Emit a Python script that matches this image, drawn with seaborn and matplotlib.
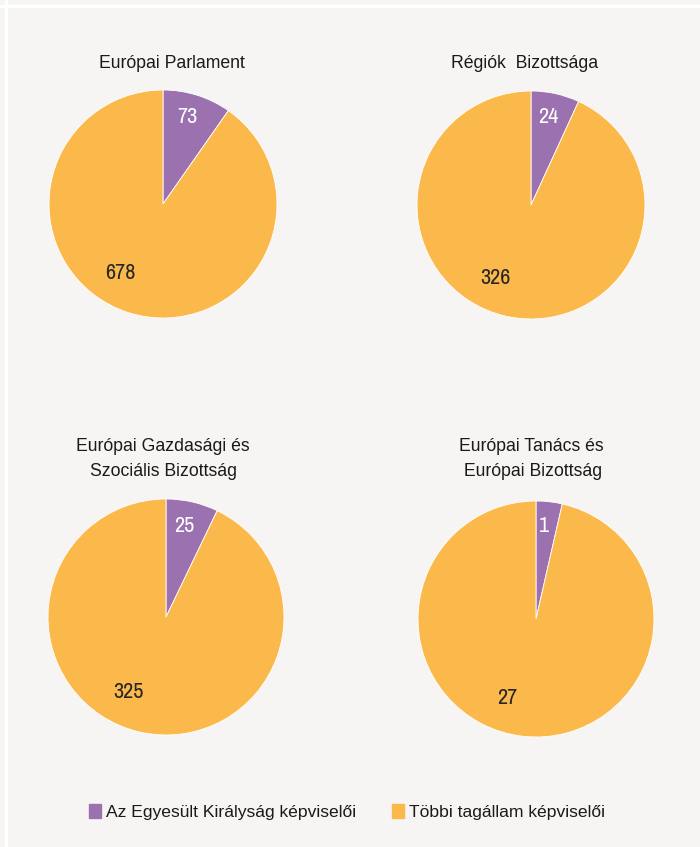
import matplotlib
matplotlib.use("Agg")
import matplotlib.pyplot as plt
import matplotlib.patches as mpatches
import seaborn as sns
import numpy as np

# ---- data ----
titles = ["Európai Parlament", "Régiók  Bizottsága",
          "Európai Gazdasági és\nSzociális Bizottság", "Európai Tanács és\n Európai Bizottság"]
uk_members = [73, 24, 25, 1]
other_members = [678, 326, 325, 27]
series_names = ["Az Egyesült Királyság képviselői", "Többi tagállam képviselői"]

sns.set_theme(style="white")
plt.rcParams['font.family'] = ['Liberation Sans', 'DejaVu Sans']
NARROW = ['Liberation Sans Narrow', 'Archivo Narrow', 'Liberation Sans', 'DejaVu Sans']

BG = "#f6f5f3"
colors = ["#9b71b0", "#fbb94c"]

W, H = 700, 847
fig = plt.figure(figsize=(7, 8.47), dpi=100, facecolor=BG)

# white frame lines (top and left)
fig.add_artist(plt.Line2D([0, 1], [1 - 6 / H, 1 - 6 / H], transform=fig.transFigure, color="white", lw=2.5))
fig.add_artist(plt.Line2D([6 / W, 6 / W], [0, 1], transform=fig.transFigure, color="white", lw=2.5))

# pie centres / radii (pixels) and title centres
centres = [(163, 204, 114), (531, 205, 114), (166, 617, 118), (536, 619, 118)]
title_pos = [(172, 64), (525, 64), (163, 459), (531, 459)]

for i in range(4):
    cx, cy, r = centres[i]
    ax = fig.add_axes([(cx - r) / W, 1 - (cy + r) / H, 2 * r / W, 2 * r / H])
    ax.set_facecolor(BG)
    vals = [uk_members[i], other_members[i]]
    wedges, texts = ax.pie(vals, colors=colors, startangle=90, counterclock=False,
                           labels=[str(v) for v in vals], labeldistance=None,
                           wedgeprops=dict(linewidth=0.6, edgecolor="white"))
    # data labels
    total = sum(vals)
    ang0 = 90
    for j, v in enumerate(vals):
        span = 360 * v / total
        mid = ang0 - span / 2
        ang0 -= span
        if j == 0:
            a, d, col = mid + 1.5, 0.79, "white"
        else:
            a, d, col = mid - 14, 0.71, "#262626"
        t = np.deg2rad(a)
        ax.text(d * np.cos(t), d * np.sin(t), str(v), ha="center", va="center",
                fontsize=16, color=col, family=NARROW)
    ax.set_xlim(-1, 1)
    ax.set_ylim(-1, 1)
    ax.set_aspect("equal")
    tx, ty = title_pos[i]
    fig.text(tx / W, 1 - ty / H, titles[i], ha="center", va="center", fontsize=12.7,
             color="#1a1a1a", linespacing=1.6)

handles = [mpatches.Patch(color=colors[k], label=series_names[k]) for k in range(2)]
fig.legend(handles=handles, loc="center", bbox_to_anchor=(347 / W, 1 - 812 / H), ncol=2,
           frameon=False, fontsize=12.6, handlelength=0.7, handleheight=0.85,
           handletextpad=0.3, columnspacing=2.0, labelcolor="#1a1a1a")

fig.savefig("out.png", dpi=100, facecolor=BG)
